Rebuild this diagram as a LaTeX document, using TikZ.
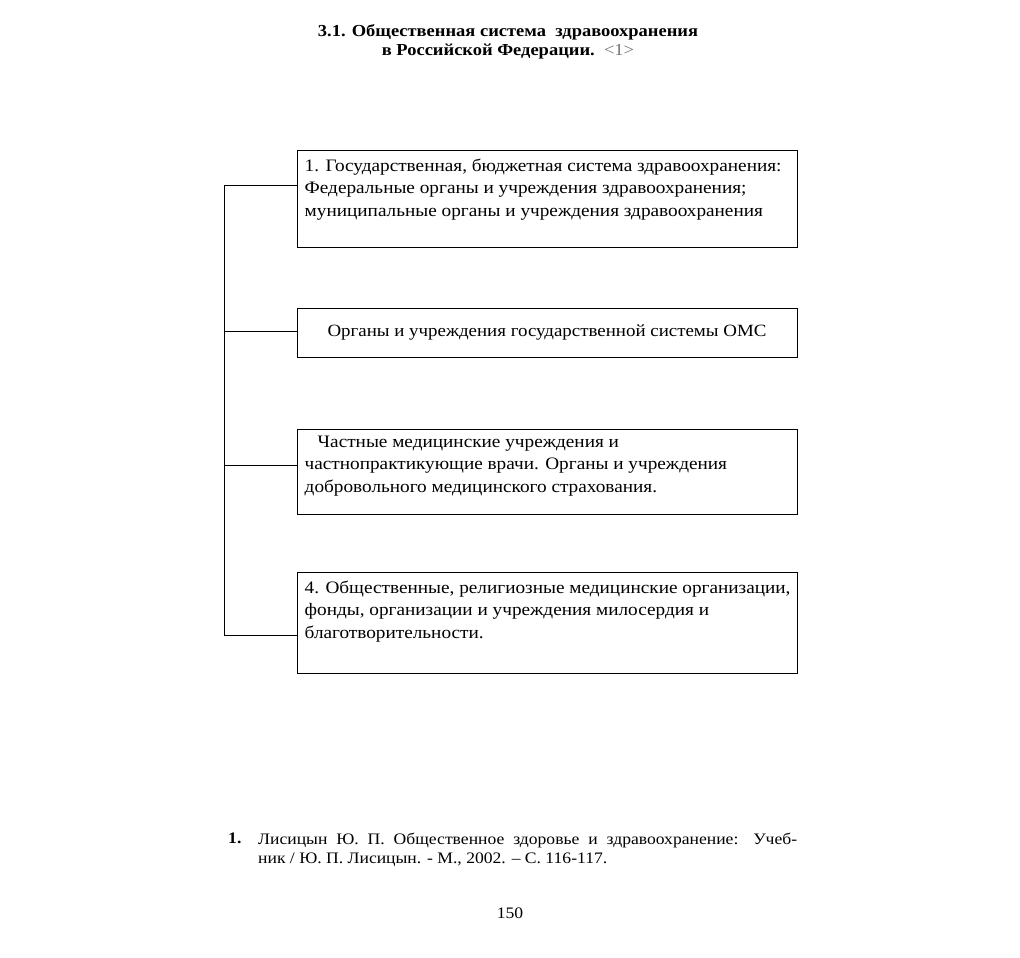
\documentclass[tikz,border=0pt]{standalone}
\usepackage{fontspec}
\setmainfont[FakeStretch=1.1]{Liberation Serif}
\usepackage{tikz}
\usetikzlibrary{
	positioning,
	calc
}

\begin{document}
\begin{tikzpicture}[
	x=1pt, y=-1pt,
	frame/.style={
		rectangle, draw, line width=1pt,
		minimum width=500pt, inner sep=0pt
	},
	boxtext/.style={
		anchor=north west, inner sep=0pt,
		align=left, font=\fontsize{17.5}{22.5}\selectfont
	},
	link/.style={line width=1pt, black}
	]
	
	% page size
	\fill[white] (0,0) rectangle (1020,958);
	\useasboundingbox (0,0) rectangle (1020,958);
	
	% heading
	\node[align=center, font=\bfseries\fontsize{16.8}{18.5}\selectfont] (head) at (508,42)
		{3.1. Общественная система\ \ здравоохранения\\
		 в Российской Федерации.\ \ {\mdseries\color{black!55}<1>}};
	
	% state system
	\node[frame, minimum height=97pt] (state) at (547,198.5) {};
	\node[boxtext] (stateText) at ([shift={(8,9)}]state.north west)
		{1. Государственная, бюджетная система здравоохранения:\\
		 Федеральные органы и учреждения здравоохранения;\\
		 муниципальные органы и учреждения здравоохранения};
	
	% compulsory insurance
	\node[frame, minimum height=49pt, font=\fontsize{17.2}{22.5}\selectfont] (oms) at (547,332.5)
		{Органы и учреждения государственной системы ОМС};
	
	% private sector
	\node[frame, minimum height=85pt] (private) at (547,471.5) {};
	\node[boxtext] (privateText) at ([shift={(8,7)}]private.north west)
		{\hspace*{13pt}Частные медицинские учреждения и\\
		 частнопрактикующие врачи. Органы и учреждения\\
		 добровольного медицинского страхования.};
	
	% public organisations
	\node[frame, minimum height=101pt] (public) at (547,622.5) {};
	\node[boxtext] (publicText) at ([shift={(8,9)}]public.north west)
		{4. Общественные, религиозные медицинские организации,\\
		 фонды, организации и учреждения милосердия и\\
		 благотворительности.};
	
	% left bracket
	\coordinate (top) at (224,185);
	\coordinate (bottom) at (224,635);
	\draw[link] (top) -- (bottom);
	\draw[link] (top) -- (top -| state.west);
	\draw[link] (224,331) -- (oms.west |- 0,331);
	\draw[link] (224,465) -- (private.west |- 0,465);
	\draw[link] (bottom) -- (bottom -| public.west);
	
	% footnote
	\node[anchor=north west, inner sep=0pt, font=\bfseries\fontsize{16}{18.5}\selectfont] (noteNo) at (228,833) {1.};
	\node[anchor=north west, inner sep=0pt, align=left, font=\fontsize{16}{18.5}\selectfont] (note) at (258,833)
		{\makebox[539pt][s]{Лисицын Ю. П. Общественное здоровье и здравоохранение: Учеб-}\\
		 ник / Ю. П. Лисицын. - М., 2002. -- С. 116-117.};
	
	% page number
	\node[font=\fontsize{16}{18}\selectfont] (page) at (510,913) {150};
\end{tikzpicture}
\end{document}
